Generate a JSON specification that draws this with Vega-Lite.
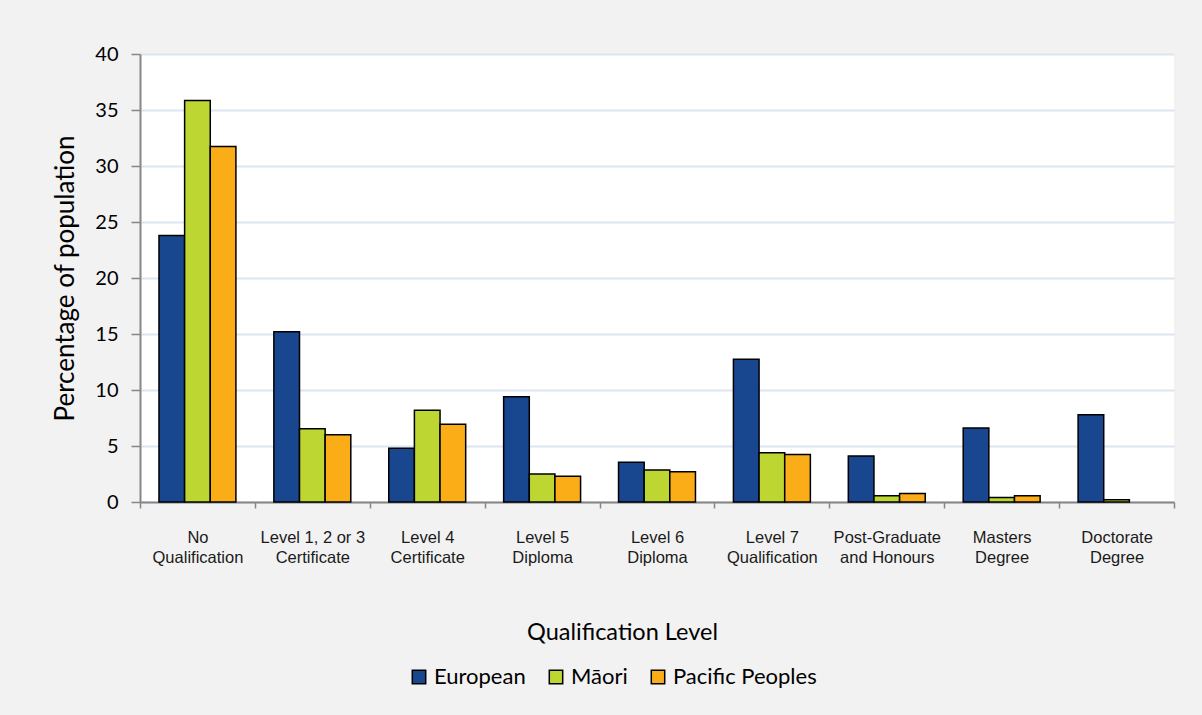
{
  "$schema": "https://vega.github.io/schema/vega-lite/v6.json",
  "autosize": {"type": "none"},
  "width": 1034,
  "height": 448,
  "padding": {"left": 140, "top": 54, "right": 28, "bottom": 213},
  "background": "#f2f2f2",
  "data": {
    "values": [
      {"level": "No Qualification", "group": "European", "pct": 23.8},
      {"level": "No Qualification", "group": "Māori", "pct": 35.85},
      {"level": "No Qualification", "group": "Pacific Peoples", "pct": 31.75},
      {"level": "Level 1, 2 or 3 Certificate", "group": "European", "pct": 15.2},
      {"level": "Level 1, 2 or 3 Certificate", "group": "Māori", "pct": 6.55},
      {"level": "Level 1, 2 or 3 Certificate", "group": "Pacific Peoples", "pct": 6.0},
      {"level": "Level 4 Certificate", "group": "European", "pct": 4.8},
      {"level": "Level 4 Certificate", "group": "Māori", "pct": 8.2},
      {"level": "Level 4 Certificate", "group": "Pacific Peoples", "pct": 6.95},
      {"level": "Level 5 Diploma", "group": "European", "pct": 9.4},
      {"level": "Level 5 Diploma", "group": "Māori", "pct": 2.5},
      {"level": "Level 5 Diploma", "group": "Pacific Peoples", "pct": 2.3},
      {"level": "Level 6 Diploma", "group": "European", "pct": 3.55},
      {"level": "Level 6 Diploma", "group": "Māori", "pct": 2.85},
      {"level": "Level 6 Diploma", "group": "Pacific Peoples", "pct": 2.7},
      {"level": "Level 7 Qualification", "group": "European", "pct": 12.75},
      {"level": "Level 7 Qualification", "group": "Māori", "pct": 4.4},
      {"level": "Level 7 Qualification", "group": "Pacific Peoples", "pct": 4.25},
      {"level": "Post-Graduate and Honours", "group": "European", "pct": 4.1},
      {"level": "Post-Graduate and Honours", "group": "Māori", "pct": 0.55},
      {"level": "Post-Graduate and Honours", "group": "Pacific Peoples", "pct": 0.75},
      {"level": "Masters Degree", "group": "European", "pct": 6.6},
      {"level": "Masters Degree", "group": "Māori", "pct": 0.4},
      {"level": "Masters Degree", "group": "Pacific Peoples", "pct": 0.55},
      {"level": "Doctorate Degree", "group": "European", "pct": 7.8},
      {"level": "Doctorate Degree", "group": "Māori", "pct": 0.2}
    ]
  },
  "mark": {"type": "bar", "stroke": "#000000", "strokeWidth": 1.5},
  "encoding": {
    "x": {
      "field": "level",
      "type": "nominal",
      "sort": null,
      "scale": {"paddingInner": 0, "paddingOuter": 0},
      "axis": {
        "title": "Qualification Level",
        "titleFont": "Lato",
        "titleFontSize": 23.5,
        "titleFontWeight": "normal",
        "titleColor": "#000000",
        "titleX": 482,
        "titleY": 130,
        "titleBaseline": "middle",
        "labelAngle": 0,
        "labelFont": "Liberation Sans",
        "labelFontSize": 16.5,
        "labelColor": "#1a1a1a",
        "labelPadding": 21,
        "labelLineHeight": 20,
        "labelBaseline": "top",
        "labelExpr": "!isString(datum.value) ? '' : datum.value == 'Post-Graduate and Honours' ? ['Post-Graduate', 'and Honours'] : [substring(datum.value, 0, lastindexof(datum.value, ' ')), substring(datum.value, lastindexof(datum.value, ' ') + 1)]",
        "tickBand": "extent",
        "tickSize": 6,
        "tickColor": "#868686",
        "tickWidth": 1.5,
        "domainColor": "#868686",
        "domainWidth": 2,
        "grid": false
      }
    },
    "xOffset": {
      "field": "group",
      "type": "nominal",
      "sort": ["European", "Māori", "Pacific Peoples"],
      "scale": {"paddingInner": 0, "paddingOuter": 0.74}
    },
    "y": {
      "field": "pct",
      "type": "quantitative",
      "scale": {"domain": [0, 40], "nice": false},
      "axis": {
        "title": "Percentage of population",
        "titleFont": "Lato",
        "titleFontSize": 26,
        "titleFontWeight": "normal",
        "titleColor": "#000000",
        "titlePadding": 16,
        "values": [0, 5, 10, 15, 20, 25, 30, 35, 40],
        "labelFont": "Lato",
        "labelFontSize": 20,
        "labelColor": "#000000",
        "labelPadding": 13,
        "tickSize": 9,
        "tickColor": "#868686",
        "tickWidth": 1.5,
        "domainColor": "#868686",
        "domainWidth": 2,
        "grid": true,
        "gridColor": "#dce6f2",
        "gridWidth": 2
      }
    },
    "color": {
      "field": "group",
      "type": "nominal",
      "sort": ["European", "Māori", "Pacific Peoples"],
      "scale": {"domain": ["European", "Māori", "Pacific Peoples"], "range": ["#18468f", "#bdd631", "#fbad18"]},
      "legend": {
        "title": null,
        "orient": "none",
        "direction": "horizontal",
        "legendX": 268,
        "legendY": 612,
        "symbolType": "square",
        "symbolSize": 180,
        "symbolStrokeColor": "#000000",
        "symbolStrokeWidth": 1.5,
        "symbolOpacity": 1,
        "labelFont": "Lato",
        "labelFontSize": 22,
        "labelColor": "#000000",
        "labelOffset": 4,
        "columnPadding": 19
      }
    }
  },
  "config": {
    "view": {"fill": "#ffffff", "stroke": null}
  }
}
